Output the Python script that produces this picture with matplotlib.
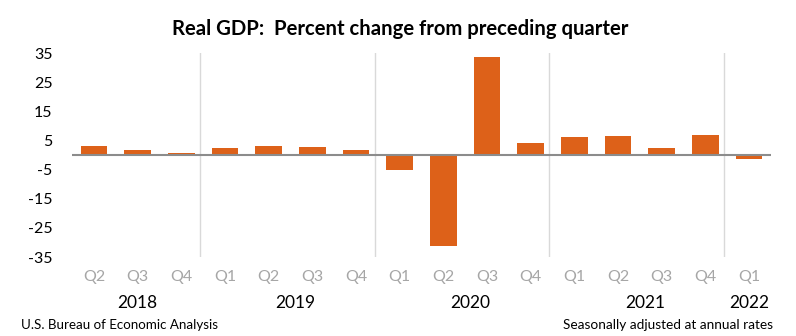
import matplotlib.pyplot as plt
from matplotlib.transforms import blended_transform_factory

plt.rcParams['font.family'] = ['Lato', 'DejaVu Sans']

# datos
quarters = ['Q2', 'Q3', 'Q4',
            'Q1', 'Q2', 'Q3', 'Q4',
            'Q1', 'Q2', 'Q3', 'Q4',
            'Q1', 'Q2', 'Q3', 'Q4',
            'Q1']
years = ['2018', '2019', '2020', '2021', '2022']
year_sizes = [3, 4, 4, 4, 1]
gdp_change = [3.2, 1.7, 0.8,
              2.4, 3.1, 2.7, 1.8,
              -5.1, -31.2, 33.8, 4.3,
              6.2, 6.5, 2.3, 6.9,
              -1.4]
yticks = [35, 25, 15, 5, -5, -15, -25, -35]

fig = plt.figure(figsize=(7.96, 3.36), dpi=100)
ax = fig.add_axes([0.0905, 0.235, 0.878, 0.607])

x = list(range(len(gdp_change)))
ax.bar(x, gdp_change, width=0.61, color='#DD6119', zorder=2)
ax.axhline(0, color='#8c8c8c', linewidth=1.5, zorder=3)

# separadores entre años
start = 0
for n in year_sizes[:-1]:
    start += n
    ax.axvline(start - 0.57, color='#d9d9d9', linewidth=1, zorder=1)

ax.set_xlim(-0.5, len(gdp_change) - 0.5)
ax.set_ylim(-35, 35)
ax.set_yticks(yticks)
ax.set_yticklabels([str(v) for v in yticks], fontsize=11.5)
ax.tick_params(axis='y', length=0, pad=14)
ax.set_xticks([])
for s in ax.spines.values():
    s.set_visible(False)

trans = blended_transform_factory(ax.transData, ax.transAxes)
for i, q in enumerate(quarters):
    ax.text(i, -0.098, q, transform=trans, ha='center', va='center',
            fontsize=11.5, color='#a6a6a6')

start = 0
for yr, n in zip(years, year_sizes):
    center = start + (n - 1) / 2
    if n > 3:
        center += 0.12
    ax.text(center, -0.225, yr, transform=trans, ha='center', va='center',
            fontsize=12.5, color='black')
    start += n

fig.text(0.503, 0.915, 'Real GDP:  Percent change from preceding quarter',
         ha='center', va='center', fontsize=14.6, fontweight='bold')
fig.text(0.027, 0.033, 'U.S. Bureau of Economic Analysis',
         ha='left', va='center', fontsize=9.6)
fig.text(0.971, 0.033, 'Seasonally adjusted at annual rates',
         ha='right', va='center', fontsize=9.8)

fig.savefig('out.png', dpi=100)
